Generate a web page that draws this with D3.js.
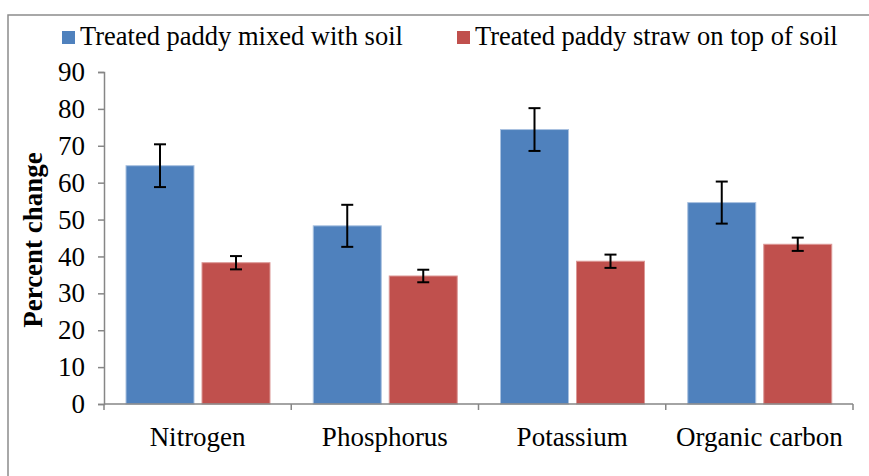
<!DOCTYPE html>
<html>
<head>
<meta charset="utf-8">
<script src="https://cdn.jsdelivr.net/npm/d3@7"></script>
<style>
  body { margin: 0; background: #fff; }
</style>
</head>
<body>
<svg width="869" height="476"></svg>
<script>
var categories = ["Nitrogen", "Phosphorus", "Potassium", "Organic carbon"];
var seriesNames = ["Treated paddy mixed with soil", "Treated paddy straw on top of soil"];
var mixedValues = [64.6, 48.3, 74.4, 54.6];
var mixedErrors = [5.8, 5.7, 5.8, 5.7];
var topValues = [38.3, 34.7, 38.7, 43.3];
var topErrors = [1.8, 1.7, 1.8, 1.8];
var yTicks = [0, 10, 20, 30, 40, 50, 60, 70, 80, 90];
var colors = ["#4F81BD", "#C0504D"];
var edges = ["#a9c1e0", "#dc9896"];
var serif = "'Liberation Serif', 'Times New Roman', serif";

var svg = d3.select("svg"),
    margin = {top: 72, left: 104, right: 16, bottom: 72},
    width = 869 - margin.left - margin.right,
    height = 476 - margin.top - margin.bottom;

// chart frame
svg.append("rect")
    .attr("x", 8).attr("y", 15)
    .attr("width", 900).attr("height", 500)
    .attr("fill", "none").attr("stroke", "#8c8c8c").attr("stroke-width", 1.5);

var x = d3.scaleBand().domain(categories).range([0, width]);
var x1 = d3.scaleBand().domain([0, 1]).range([22, 166]).paddingInner(8 / 76);
var y = d3.scaleLinear().domain([0, 90]).range([height, 0]);

var g = svg.append("g")
    .attr("transform", "translate(" + margin.left + "," + margin.top + ")");

var rows = categories.map(function(c, i) {
  return [
    {cat: c, s: 0, v: mixedValues[i], e: mixedErrors[i]},
    {cat: c, s: 1, v: topValues[i], e: topErrors[i]}
  ];
});

var groups = g.selectAll(".grp")
    .data(rows)
    .enter().append("g")
    .attr("class", "grp")
    .attr("transform", function(d, i) { return "translate(" + x(categories[i]) + ",0)"; });

groups.selectAll("rect")
    .data(function(d) { return d; })
    .enter().append("rect")
    .attr("x", function(d) { return x1(d.s); })
    .attr("width", x1.bandwidth())
    .attr("y", function(d) { return y(d.v); })
    .attr("height", function(d) { return height - y(d.v); })
    .attr("fill", function(d) { return colors[d.s]; })
    .attr("stroke", function(d) { return edges[d.s]; })
    .attr("stroke-width", 1);

// error bars
var err = groups.selectAll(".err")
    .data(function(d) { return d; })
    .enter().append("g")
    .attr("class", "err")
    .attr("stroke", "#000").attr("stroke-width", 2);
err.append("line")
    .attr("x1", function(d) { return x1(d.s) + x1.bandwidth() / 2; })
    .attr("x2", function(d) { return x1(d.s) + x1.bandwidth() / 2; })
    .attr("y1", function(d) { return y(d.v + d.e); })
    .attr("y2", function(d) { return y(d.v - d.e); });
[1, -1].forEach(function(sign) {
  err.append("line")
      .attr("x1", function(d) { return x1(d.s) + x1.bandwidth() / 2 - 6; })
      .attr("x2", function(d) { return x1(d.s) + x1.bandwidth() / 2 + 6; })
      .attr("y1", function(d) { return y(d.v + sign * d.e); })
      .attr("y2", function(d) { return y(d.v + sign * d.e); });
});

// y axis
var yAxis = g.append("g")
    .call(d3.axisLeft(y).tickValues(yTicks).tickSize(6).tickPadding(13));
yAxis.selectAll("line, path").attr("stroke", "#868686").attr("stroke-width", 1.5);
yAxis.selectAll("text")
    .style("font-family", serif).style("font-size", "27px").style("fill", "#000");

// x axis
var xAxis = g.append("g")
    .attr("transform", "translate(0," + height + ")");
xAxis.append("line")
    .attr("x1", 0).attr("x2", width)
    .attr("stroke", "#868686").attr("stroke-width", 1.5);
xAxis.selectAll(".tk")
    .data(categories.map(function(c) { return x(c); }).concat([width]))
    .enter().append("line")
    .attr("x1", function(d) { return d; }).attr("x2", function(d) { return d; })
    .attr("y1", 0).attr("y2", 6)
    .attr("stroke", "#868686").attr("stroke-width", 1.5);
xAxis.selectAll(".lbl")
    .data(categories)
    .enter().append("text")
    .attr("x", function(d) { return x(d) + x.bandwidth() / 2; })
    .attr("y", 42)
    .attr("text-anchor", "middle")
    .style("font-family", serif).style("font-size", "27px")
    .text(function(d) { return d; });

// y title
svg.append("text")
    .attr("transform", "translate(42,240) rotate(-90)")
    .attr("text-anchor", "middle")
    .style("font-family", serif).style("font-size", "27px").style("font-weight", "bold")
    .text("Percent change");

// legend
var legendX = [62, 457];
var legend = svg.selectAll(".leg")
    .data(seriesNames)
    .enter().append("g")
    .attr("class", "leg")
    .attr("transform", function(d, i) { return "translate(" + legendX[i] + ",31)"; });
legend.append("rect")
    .attr("width", 13).attr("height", 13)
    .attr("fill", function(d, i) { return colors[i]; });
legend.append("text")
    .attr("x", 18).attr("y", 14)
    .style("font-family", serif).style("font-size", "26.5px")
    .text(function(d) { return d; });
</script>
</body>
</html>
